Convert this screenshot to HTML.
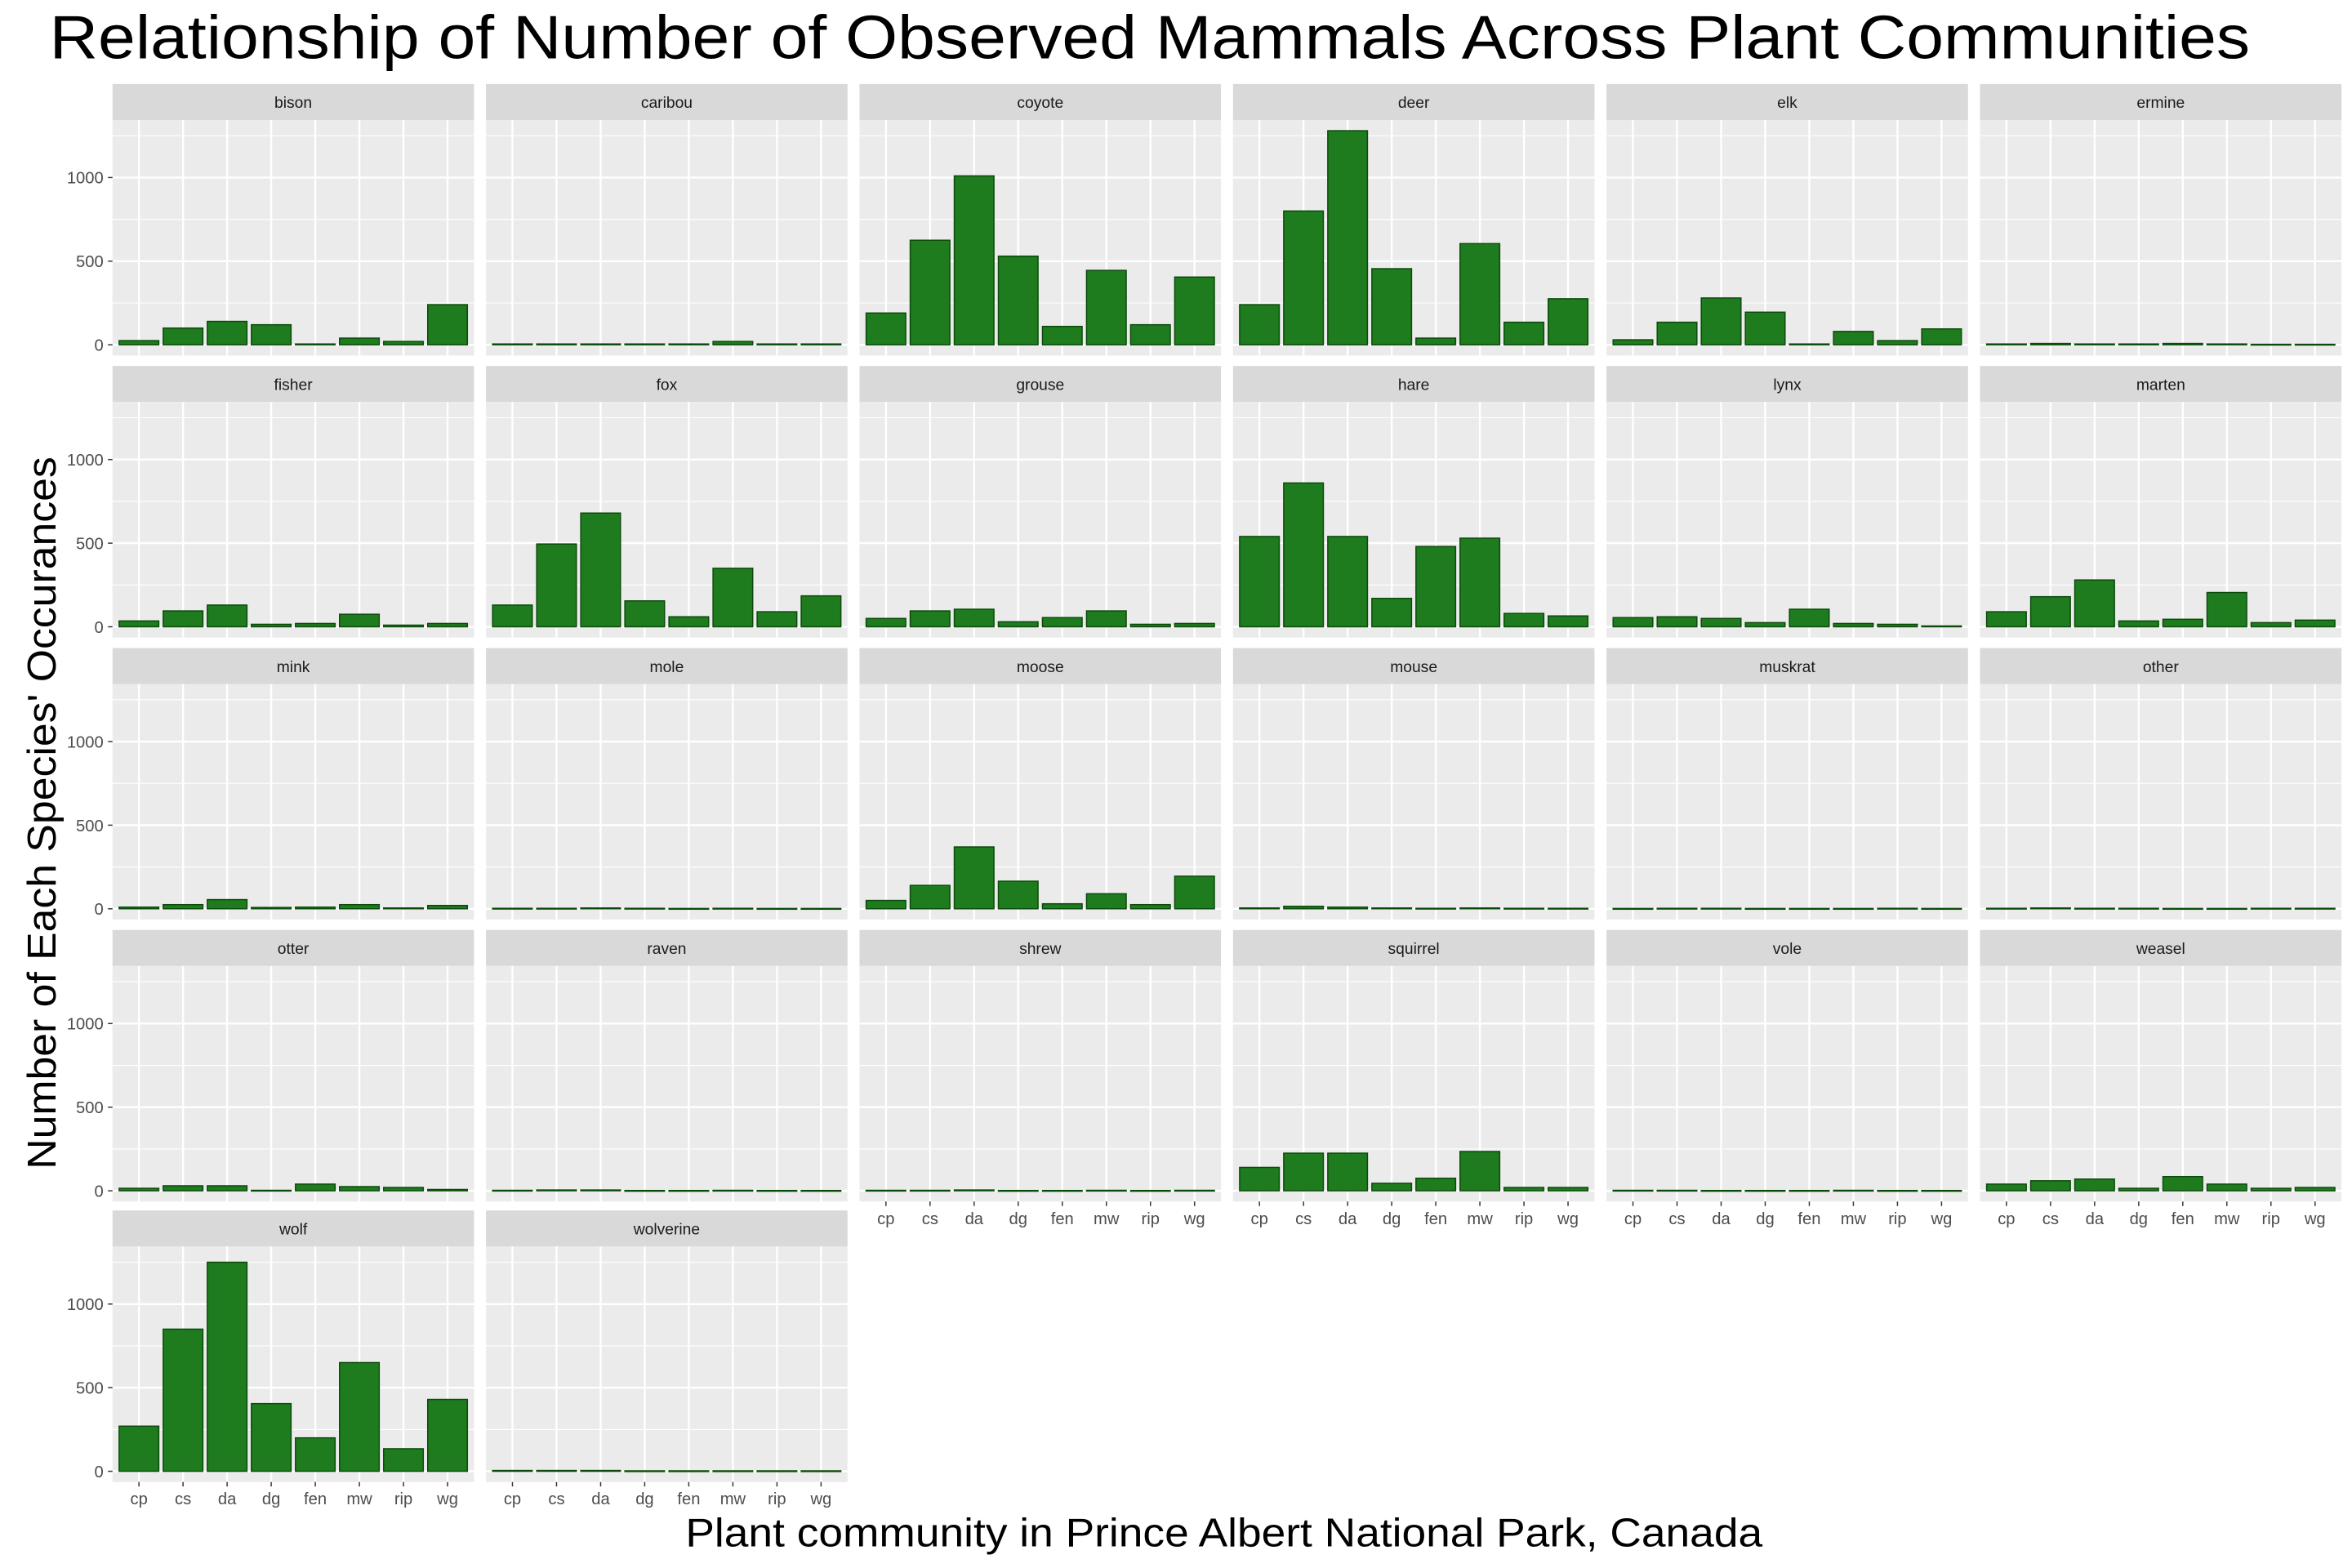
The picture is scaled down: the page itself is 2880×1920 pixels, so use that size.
<!DOCTYPE html>
<html><head><meta charset="utf-8"><style>
html,body{margin:0;padding:0;background:#fff}
svg{display:block;font-family:"Liberation Sans",Arial,sans-serif}
</style></head><body>
<svg id="chart" width="2880" height="1920" viewBox="0 0 1568 1045.33" xmlns="http://www.w3.org/2000/svg">
<rect width="1568" height="1045.33" fill="#fff"/>
<text x="33" y="39" font-size="41" textLength="1467" lengthAdjust="spacingAndGlyphs" fill="#000">Relationship of Number of Observed Mammals Across Plant Communities</text>
<text x="816" y="1031" font-size="27" text-anchor="middle" textLength="718" lengthAdjust="spacingAndGlyphs" fill="#000">Plant community in Prince Albert National Park, Canada</text>
<text transform="translate(37,542) rotate(-90)" font-size="27" text-anchor="middle" textLength="475" lengthAdjust="spacingAndGlyphs" fill="#000">Number of Each Species' Occurances</text>
<g id="panels"></g>
</svg>
<script>
const categories = ["cp","cs","da","dg","fen","mw","rip","wg"];
const species = ["bison","caribou","coyote","deer","elk","ermine","fisher","fox","grouse","hare","lynx","marten","mink","mole","moose","mouse","muskrat","other","otter","raven","shrew","squirrel","vole","weasel","wolf","wolverine"];
const bison = [25,100,140,120,5,40,20,240];
const caribou = [5,5,5,5,5,20,5,5];
const coyote = [190,625,1010,530,110,445,120,405];
const deer = [240,800,1280,455,40,605,135,275];
const elk = [30,135,280,195,5,80,25,95];
const ermine = [5,8,5,5,8,5,3,3];
const fisher = [35,95,130,15,20,75,10,20];
const fox = [130,495,680,155,60,350,90,185];
const grouse = [50,95,105,30,55,95,15,20];
const hare = [540,860,540,170,480,530,80,65];
const lynx = [55,60,50,25,105,20,15,5];
const marten = [90,180,280,35,45,205,25,40];
const mink = [10,25,55,8,10,25,5,20];
const mole = [3,3,5,3,2,3,2,2];
const moose = [50,140,370,165,30,90,25,195];
const mouse = [5,15,10,5,3,5,3,3];
const muskrat = [2,3,3,2,2,2,3,2];
const other = [3,5,3,3,2,2,3,3];
const otter = [15,30,30,3,40,25,20,8];
const raven = [3,5,5,2,2,3,2,2];
const shrew = [3,3,5,2,2,3,2,3];
const squirrel = [140,225,225,45,75,235,20,20];
const vole = [3,3,2,2,2,3,2,2];
const weasel = [40,60,70,15,85,40,15,20];
const wolf = [270,850,1250,405,200,650,135,430];
const wolverine = [5,5,5,3,3,3,3,3];
const seriesValues = [bison,caribou,coyote,deer,elk,ermine,fisher,fox,grouse,hare,lynx,marten,mink,mole,moose,mouse,muskrat,other,otter,raven,shrew,squirrel,vole,weasel,wolf,wolverine];
const yTicks = [0,500,1000];
const yMinor = [250,750,1250];

const NS = "http://www.w3.org/2000/svg";
const root = document.getElementById("panels");
const colX = [75,324,573,822,1071,1320], pw = 241;
const rowY = [56,244,432,620,807], sh = 24, ph = 157;
const yMin = -64, yMax = 1344, xMin = 0.4, xMax = 8.6;
function mk(tag, attrs, parent){const e=document.createElementNS(NS,tag);for(const k in attrs)e.setAttribute(k,attrs[k]);parent.appendChild(e);return e;}

species.forEach((sp, i) => {
  const r = Math.floor(i/6), c = i%6;
  const x0 = colX[c], sy = rowY[r], py = sy + sh;
  const xs = v => x0 + (v - xMin) / (xMax - xMin) * pw;
  const ys = v => py + ph - (v - yMin) / (yMax - yMin) * ph;
  const g = mk("g", {}, root);
  
  
  const strip = mk("rect", {x:x0, y:sy, width:pw, height:sh, fill:"#D9D9D9"}, g);
  
  
  const st = mk("text", {x:x0+pw/2, y:sy+16, "font-size":10.5, "text-anchor":"middle", fill:"#1A1A1A"}, g);
  st.textContent = sp;
  
  
  mk("rect", {x:x0, y:py, width:pw, height:ph, fill:"#EBEBEB"}, g);
  yMinor.forEach(t => mk("line", {x1:x0, x2:x0+pw, y1:ys(t), y2:ys(t), stroke:"#fff", "stroke-width":0.6}, g));
  yTicks.forEach(t => mk("line", {x1:x0, x2:x0+pw, y1:ys(t), y2:ys(t), stroke:"#fff", "stroke-width":1.3}, g));
  categories.forEach((cat, k) => mk("line", {x1:xs(k+1), x2:xs(k+1), y1:py, y2:py+ph, stroke:"#fff", "stroke-width":1.3}, g));
  const vals = seriesValues[i];
  categories.forEach((cat, k) => {
    const v = vals[k];
    const b = mk("rect", {x:xs(k+1-0.45), y:ys(v), width:xs(k+1+0.45)-xs(k+1-0.45), height:Math.max(0.5, ys(0)-ys(v)), fill:"#1E7B1E", stroke:"#0B4A0B", "stroke-width":0.8}, g);
    
    
  });
  if (c === 0) {
    yTicks.forEach(t => {
      mk("line", {x1:x0-3, x2:x0, y1:ys(t), y2:ys(t), stroke:"#333", "stroke-width":0.8}, g);
      const tl = mk("text", {x:x0-6, y:ys(t)+4, "font-size":11, "text-anchor":"end", fill:"#4D4D4D"}, g);
      tl.textContent = t;
      
      
    });
  }
  const bottom = (r === 4) || (r === 3 && c >= 2);
  if (bottom) {
    categories.forEach((cat, k) => {
      mk("line", {x1:xs(k+1), x2:xs(k+1), y1:py+ph, y2:py+ph+3, stroke:"#333", "stroke-width":0.8}, g);
      const xl = mk("text", {x:xs(k+1), y:py+ph+15, "font-size":11, "text-anchor":"middle", fill:"#4D4D4D"}, g);
      xl.textContent = cat;
      
      
    });
  }
});
</script>
</body></html>
